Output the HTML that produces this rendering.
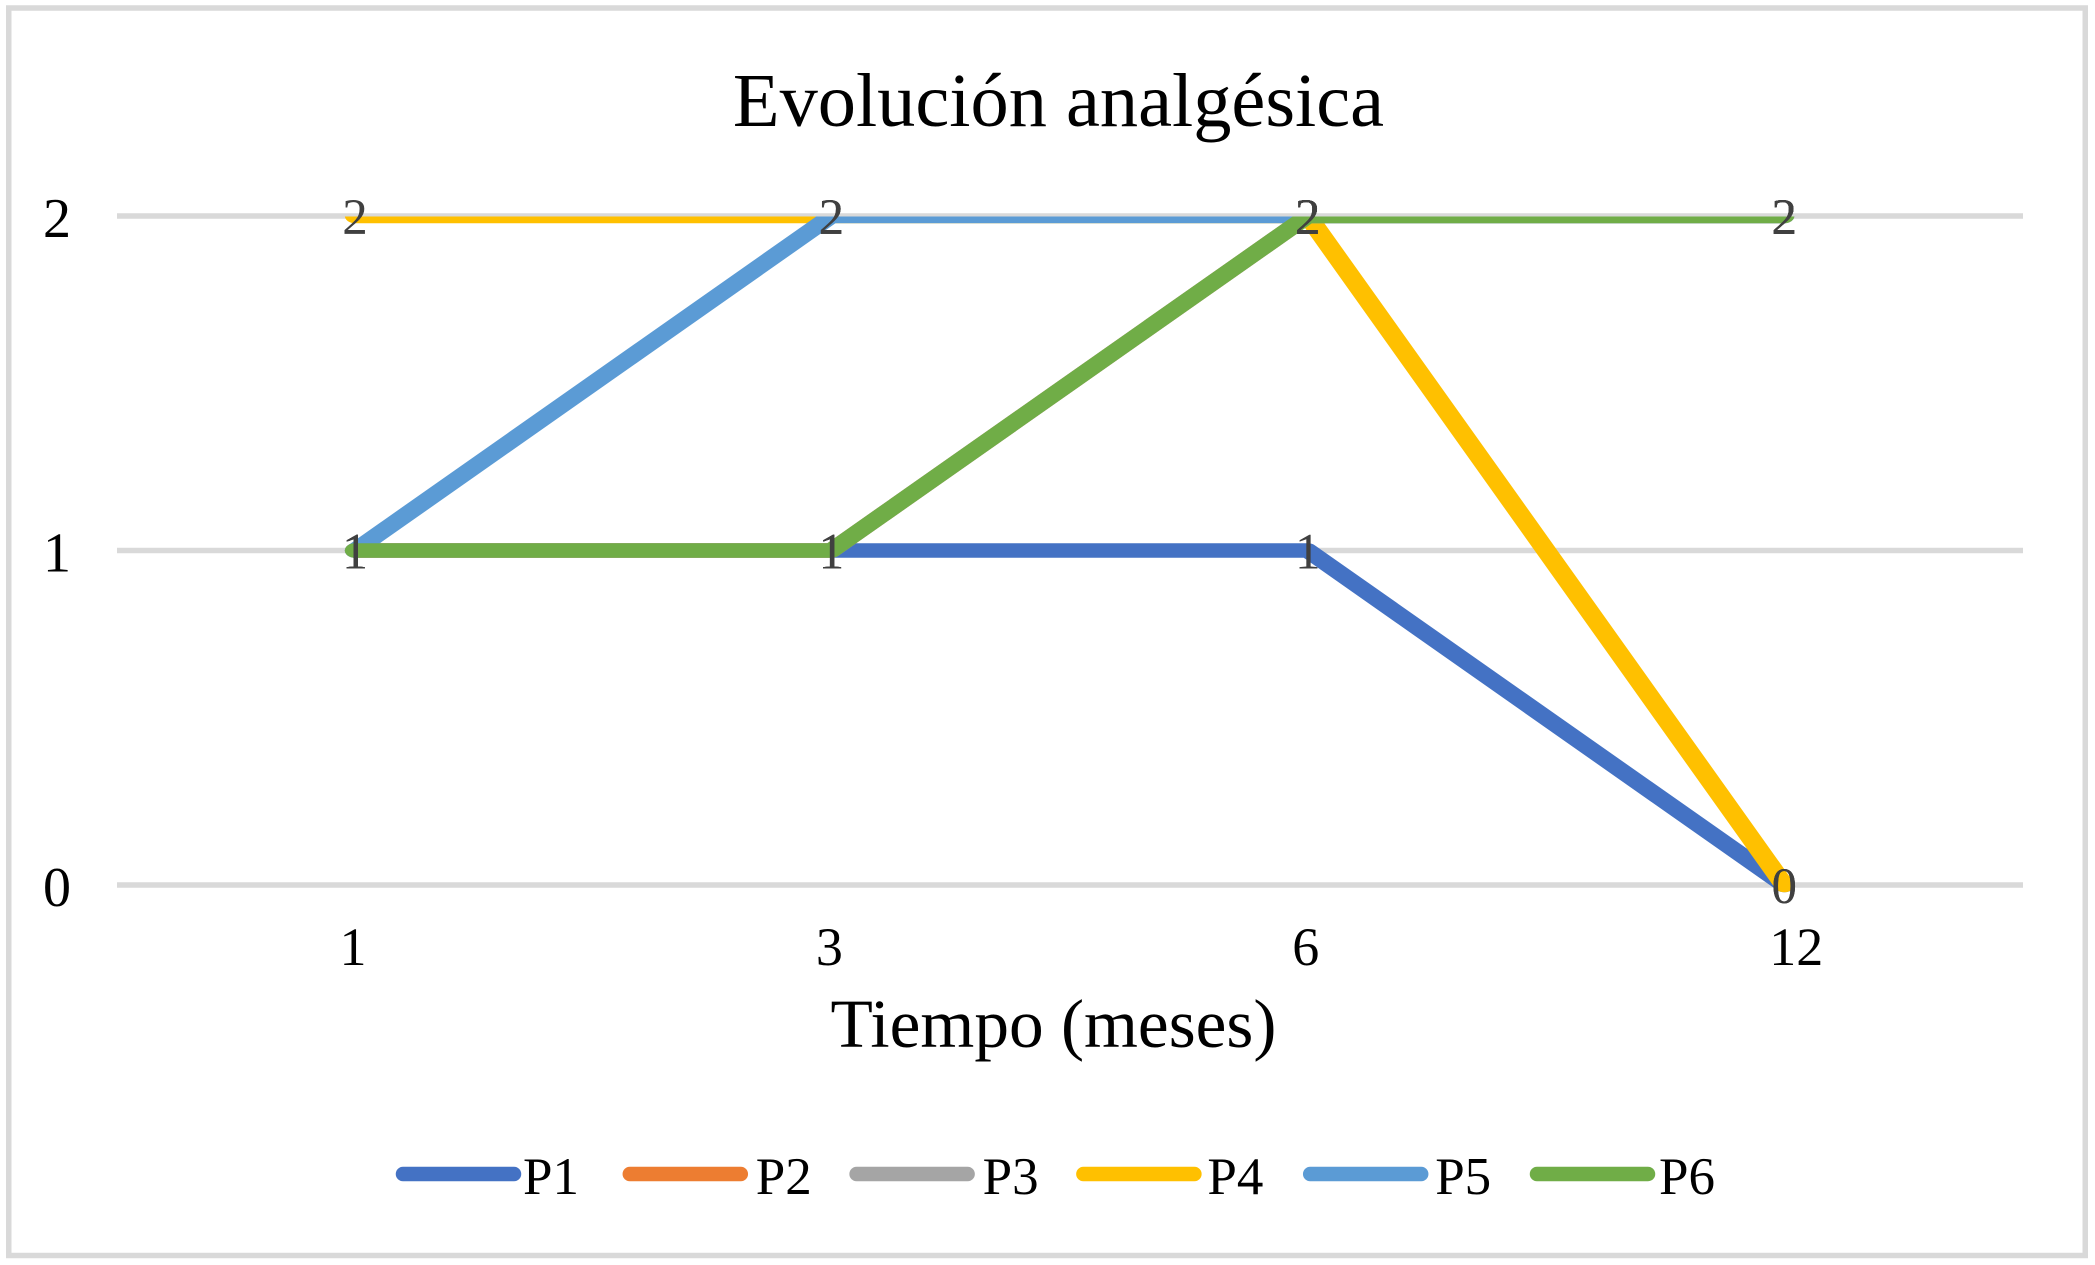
<!DOCTYPE html>
<html lang="es">
<head>
<meta charset="utf-8">
<title>Evolución analgésica</title>
<style>
html,body{margin:0;padding:0;background:#fff;width:2095px;height:1265px;overflow:hidden}
svg{display:block;position:absolute;left:0;top:0}
text{font-family:"Liberation Serif","Times New Roman",serif}
</style>
</head>
<body>
<svg id="chart" xmlns="http://www.w3.org/2000/svg" width="2095" height="1265" viewBox="0 0 2095 1265">
<defs><clipPath id="plot-clip"><rect x="0" y="216.5" width="2095" height="1000"/></clipPath></defs>
<rect x="8.75" y="8" width="2076.5" height="1247.5" fill="#fff" stroke="#d9d9d9" stroke-width="5.5"/>
<text x="1058.5" y="126" font-size="76.4" text-anchor="middle" fill="#000">Evolución analgésica</text>
<text x="1053.5" y="1047" font-size="69.3" text-anchor="middle" fill="#000">Tiempo (meses)</text>
<g id="grid"></g>
<g id="y-ticks"></g>
<g id="x-ticks"></g>
<g id="series-clip" clip-path="url(#plot-clip)">
<g id="series" transform="scale(1.4,1)"></g>
</g>
<g id="labels"></g>
<g id="legend"></g>
</svg>
<script>
const categories = ['1', '3', '6', '12'];
const yTicks = [0, 1, 2];
const seriesNames = ['P1', 'P2', 'P3', 'P4', 'P5', 'P6'];
const seriesColors = ['#4472c4', '#ed7d31', '#a5a5a5', '#ffc000', '#5b9bd5', '#70ad47'];
const p1Values = [1, 1, 1, 0];
const p2Values = [1, 1, 2, 2];
const p3Values = [1, 1, 2, 2];
const p4Values = [2, 2, 2, 0];
const p5Values = [1, 2, 2, 2];
const p6Values = [1, 1, 2, 2];
const seriesValues = [p1Values, p2Values, p3Values, p4Values, p5Values, p6Values];

const NS = 'http://www.w3.org/2000/svg';
const lineStretch = 1.4;
function xScale(i) { return 355 + i * 476.4; }
function yScale(v) { return 885 - v * 334.5; }
function make(tag, attrs, parent, txt) {
  const el = document.createElementNS(NS, tag);
  for (const k in attrs) el.setAttribute(k, attrs[k]);
  if (txt !== undefined) el.textContent = txt;
  parent.appendChild(el);
  return el;
}
const gridG = document.getElementById('grid');
const yG = document.getElementById('y-ticks');
const xG = document.getElementById('x-ticks');
const serG = document.getElementById('series');
const labG = document.getElementById('labels');
const legG = document.getElementById('legend');

yTicks.forEach(function (t) {
  const line = make('line', { x1: 117, x2: 2023, y1: yScale(t), y2: yScale(t), stroke: '#d9d9d9', 'stroke-width': 5.5 }, gridG);
  
  
  const label = make('text', { x: 57, y: yScale(t) + 21, 'font-size': 56, 'text-anchor': 'middle', fill: '#000' }, yG, String(t));
  
  
});

const xLabelOffsets = [-2, -2, -2, 12];
categories.forEach(function (c, i) {
  const label = make('text', { x: xScale(i) + xLabelOffsets[i], y: 965, 'font-size': 54, 'text-anchor': 'middle', fill: '#000' }, xG, c);
  
  
});

seriesValues.forEach(function (vals, s) {
  const pts = vals.map(function (v, i) { return (xScale(i) / lineStretch) + ',' + yScale(v); }).join(' ');
  const line = make('polyline', { points: pts, fill: 'none', stroke: seriesColors[s], 'stroke-width': 14.5, 'stroke-linejoin': 'round', 'stroke-linecap': 'round' }, serG);
  
  
});

seriesValues.forEach(function (vals, s) {
  vals.forEach(function (v, i) {
    const label = make('text', { x: xScale(i), y: yScale(v) + 18, 'font-size': 51, 'text-anchor': 'middle', fill: '#404040' }, labG, String(v));
    
    
  });
});

const legendLineStart = 403;
const legendStep = 226.8;
const legendTextOffsets = [120, 126, 126, 124, 125, 122];
seriesNames.forEach(function (n, s) {
  const x0 = legendLineStart + s * legendStep;
  const line = make('line', { x1: x0, x2: x0 + 111, y1: 1174, y2: 1174, stroke: seriesColors[s], 'stroke-width': 14.5, 'stroke-linecap': 'round' }, legG);
  
  
  const label = make('text', { x: x0 + legendTextOffsets[s], y: 1194, 'font-size': 53, fill: '#000' }, legG, n);
  
  
});
</script>
</body>
</html>
